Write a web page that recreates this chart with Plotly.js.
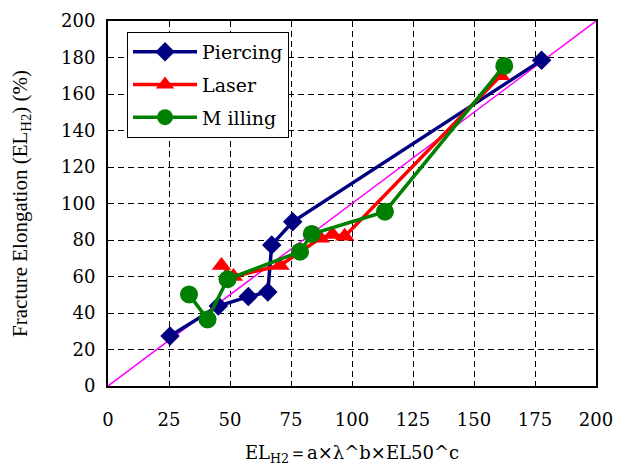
<!DOCTYPE html>
<html>
<head>
<meta charset="utf-8">
<script src="https://cdn.plot.ly/plotly-3.0.1.min.js"></script>
<style>
html,body{margin:0;padding:0;background:#fff;}
#chart{width:617px;height:466px;}
</style>
</head>
<body>
<div id="chart"></div>
<script>
// Piercing
const piercingX = [25.4, 45.2, 57.5, 65.5, 67.1, 75.7, 177.7];
const piercingY = [27.4, 43.8, 49.0, 51.5, 77.3, 90.0, 178.5];
// Laser
const laserX = [46.5, 51.4, 70.5, 87.0, 92.0, 97.0, 160.9];
const laserY = [66.0, 60.0, 66.0, 81.0, 83.0, 82.0, 170.0];
// Milling
const millingX = [33.2, 40.8, 49.0, 78.7, 83.5, 113.5, 162.4];
const millingY = [50.2, 36.5, 58.5, 73.6, 83.3, 95.5, 175.4];
// 1:1 reference line
const diagX = [0, 200];
const diagY = [0, 200];
const xTicks = [0, 25, 50, 75, 100, 125, 150, 175, 200];
const yTicks = [0, 20, 40, 60, 80, 100, 120, 140, 160, 180, 200];

const serif = "Liberation Serif";
const dserif = "DejaVu Serif";

const traces = [
  {x: diagX, y: diagY, mode: 'lines', line: {color: '#ff00ff', width: 1.5}, showlegend: false, hoverinfo: 'skip'},
  {x: piercingX, y: piercingY, name: 'Piercing', legendgroup: 'p', mode: 'lines+markers',
   line: {color: '#000080', width: 3.5}, marker: {symbol: 'diamond', size: 15, color: '#000080'}},
  {x: laserX, y: laserY, name: 'Laser', legendgroup: 'l', mode: 'lines+markers',
   line: {color: '#ff0000', width: 3.5}, marker: {symbol: 'triangle-up', size: 17, color: '#ff0000'}},
  {x: millingX, y: millingY, name: 'M illing', legendgroup: 'm', mode: 'lines+markers',
   line: {color: '#008000', width: 3.5}, marker: {symbol: 'circle', size: 18, color: '#008000'}}
];

const axisCommon = {
  showline: true, linecolor: '#000', linewidth: 2, mirror: true,
  ticks: 'inside', ticklen: 5, tickcolor: '#000', tickwidth: 1,
  showgrid: true, gridcolor: '#000', gridwidth: 1, griddash: '6px,4px',
  zeroline: false, tickfont: {family: dserif, size: 18, color: '#000'}
};

const layout = {
  width: 617, height: 466,
  margin: {l: 108, r: 21, t: 21, b: 80},
  paper_bgcolor: '#fff', plot_bgcolor: '#fff',
  font: {family: dserif, color: '#000', size: 18},
  xaxis: Object.assign({}, axisCommon, {
    range: [0, 200], tickvals: xTicks, ticktext: xTicks.map(String),
    ticklabelstandoff: 16,
    title: {text: 'EL<sub>H2</sub>＝a×λ^b×EL50^c', font: {family: dserif, size: 18, color: '#000'}, standoff: 24}
  }),
  yaxis: Object.assign({}, axisCommon, {
    range: [0, 200], tickvals: yTicks, ticktext: yTicks.map(String),
    ticklabelstandoff: 7,
    title: {text: 'Fracture Elongation (EL<sub>H2</sub>) (%)', font: {family: serif, size: 21, color: '#000'}, standoff: 28}
  }),
  legend: {
    x: 0.039, y: 0.97, xanchor: 'left', yanchor: 'top',
    bgcolor: '#fff', bordercolor: '#000', borderwidth: 1,
    font: {family: dserif, size: 19, color: '#000'},
    itemwidth: 64, tracegroupgap: 5, traceorder: 'grouped'
  },
  showlegend: true
};

Plotly.newPlot('chart', traces, layout, {displayModeBar: false, staticPlot: true});
</script>
</body>
</html>
